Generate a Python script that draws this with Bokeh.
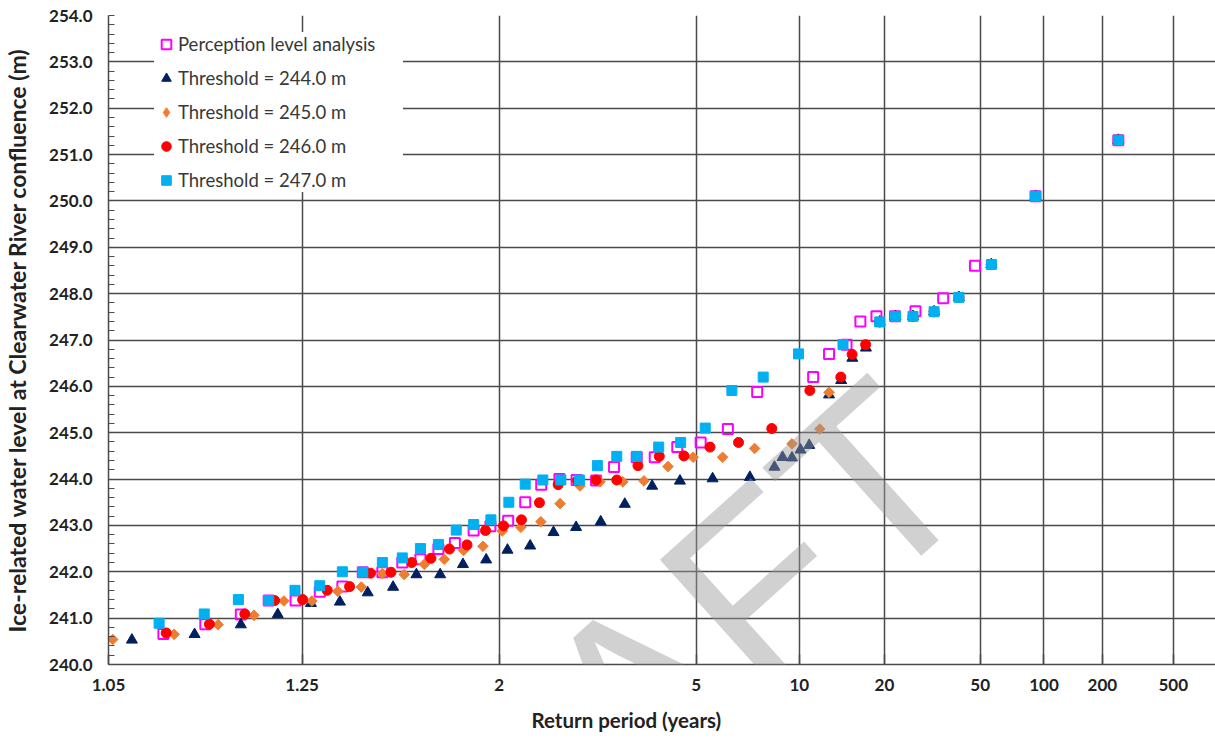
import math
from statistics import NormalDist
from bokeh.plotting import figure
from bokeh.models import (Range1d, FixedTicker, SingleIntervalTicker, CustomJSTickFormatter,
                          PrintfTickFormatter, Legend, LegendItem, Label, Title)
from bokeh.embed import file_html
from bokeh.resources import INLINE

# ---------------- data (return period in years, water level in m) ----------------
pla_T = [1.082, 1.117, 1.156, 1.194, 1.238, 1.285, 1.336, 1.389, 1.447, 1.514, 1.583, 1.660,
         1.739, 1.840, 1.942, 2.063, 2.194, 2.332, 2.509, 2.699, 2.945, 3.206, 3.59, 3.948,
         4.474, 5.133, 6.083, 7.391, 11.11, 12.58, 14.49, 16.26, 18.66, 22.0, 26.5, 34.5,
         47.4, 90.9, 244.0]
pla_h = [240.66, 240.87, 241.08, 241.38, 241.38, 241.57, 241.68, 241.99, 241.99, 242.20, 242.27,
         242.49, 242.62, 242.89, 242.98, 243.10, 243.50, 243.88, 244.00, 243.98, 243.97, 244.26,
         244.47, 244.47, 244.69, 244.79, 245.08, 245.88, 246.20, 246.70, 246.90, 247.40, 247.51,
         247.51, 247.62, 247.90, 248.60, 250.10, 251.31]

# upper points shared by all threshold series
top_T = [19.19, 22.08, 25.9, 31.6, 40.3, 56.2, 90.9, 244.0]
top_h = [247.39, 247.51, 247.51, 247.61, 247.92, 248.63, 250.10, 251.31]

t244_T = [1.062, 1.107, 1.156, 1.208, 1.267, 1.330, 1.403, 1.482, 1.567, 1.668, 1.781, 1.915,
          2.058, 2.235, 2.449, 2.693, 3.009, 3.380, 3.893, 4.543, 5.522, 7.032, 8.34, 8.84,
          9.47, 10.09, 10.78, 12.58, 13.87, 15.2, 17.05]
t244_h = [240.53, 240.65, 240.86, 241.08, 241.32, 241.35, 241.55, 241.67, 241.94, 241.94, 242.16,
          242.26, 242.47, 242.56, 242.85, 242.96, 243.08, 243.46, 243.85, 243.96, 244.01, 244.04,
          244.26, 244.47, 244.46, 244.63, 244.73, 245.82, 246.13, 246.61, 246.83]

t245_T = [1.052, 1.090, 1.130, 1.173, 1.218, 1.269, 1.325, 1.385, 1.447, 1.521, 1.599, 1.687,
          1.784, 1.895, 2.021, 2.159, 2.329, 2.516, 2.740, 2.999, 3.346, 3.728, 4.246, 4.909,
          5.882, 7.262, 9.47, 11.70, 12.58]
t245_h = [240.54, 240.65, 240.86, 241.06, 241.37, 241.37, 241.58, 241.67, 241.96, 241.94, 242.16,
          242.27, 242.46, 242.55, 242.88, 242.96, 243.08, 243.47, 243.85, 243.94, 243.94, 243.96,
          244.27, 244.47, 244.47, 244.66, 244.76, 245.08, 245.87]

t246_T = [1.084, 1.121, 1.161, 1.203, 1.251, 1.301, 1.354, 1.411, 1.475, 1.549, 1.627, 1.712,
          1.803, 1.911, 2.030, 2.164, 2.316, 2.496, 2.709, 2.945, 3.249, 3.614, 4.047, 4.649,
          5.435, 6.519, 8.183, 10.83, 13.83, 15.17, 17.0]
t246_h = [240.68, 240.87, 241.09, 241.38, 241.40, 241.60, 241.68, 241.97, 241.99, 242.20, 242.29,
          242.49, 242.58, 242.89, 242.99, 243.12, 243.49, 243.88, 243.97, 243.98, 243.98, 244.29,
          244.49, 244.50, 244.69, 244.79, 245.09, 245.91, 246.20, 246.69, 246.90]

t247_T = [1.079, 1.116, 1.153, 1.194, 1.237, 1.285, 1.336, 1.389, 1.447, 1.514, 1.583, 1.660,
          1.746, 1.840, 1.945, 2.068, 2.194, 2.347, 2.524, 2.732, 2.963, 3.249, 3.591, 4.034,
          4.562, 5.277, 6.242, 7.704, 9.94, 14.08]
t247_h = [240.89, 241.09, 241.40, 241.38, 241.60, 241.70, 242.00, 241.99, 242.20, 242.30, 242.50,
          242.59, 242.90, 243.02, 243.12, 243.50, 243.89, 243.98, 243.98, 243.98, 244.29, 244.49,
          244.49, 244.69, 244.79, 245.10, 245.91, 246.20, 246.70, 246.90]

tick_T = [1.05, 1.25, 2, 5, 10, 20, 50, 100, 200, 500]
tick_labels = ["1.05", "1.25", "2", "5", "10", "20", "50", "100", "200", "500"]

series_names = ["Perception level analysis", "Threshold = 244.0 m", "Threshold = 245.0 m",
                "Threshold = 246.0 m", "Threshold = 247.0 m"]

# ---------------- probability (normal) scale ----------------
nd = NormalDist()


def zT(T):
    return nd.inv_cdf(1.0 - 1.0 / T)


W, H = 1215, 743
LEFT, TOP, BOTTOM = 107, 15, 79
x0, x1 = zT(1.05), zT(900)
y0, y1 = 240.0, 254.0

FONT = "Lato"
INK = "#222222"
GRID = "#4a4a4a"

p = figure(width=W, height=H, output_backend="svg", toolbar_location=None,
           x_range=Range1d(x0, x1), y_range=Range1d(y0, y1),
           min_border_left=LEFT, min_border_right=0, min_border_top=TOP,
           min_border_bottom=BOTTOM)
p.outline_line_color = None
p.background_fill_color = "white"
p.border_fill_color = "white"

# x axis
xt = [zT(t) for t in tick_T]
p.xaxis.ticker = FixedTicker(ticks=xt, minor_ticks=[])
p.xaxis.formatter = CustomJSTickFormatter(args=dict(tvals=xt, tlabels=tick_labels), code="""
    for (let i = 0; i < tvals.length; i++) {
        if (Math.abs(tvals[i] - tick) < 1e-6) { return tlabels[i]; }
    }
    return "";
""")
p.xaxis.major_tick_in = 10
p.xaxis.major_tick_out = 0
p.xaxis.major_label_standoff = 14
p.xgrid.ticker = FixedTicker(ticks=xt, minor_ticks=[])

# y axis
p.yaxis.ticker = SingleIntervalTicker(interval=1, num_minor_ticks=5)
p.yaxis.formatter = PrintfTickFormatter(format="%.1f")
p.yaxis.major_tick_in = 0
p.yaxis.major_tick_out = 0
p.yaxis.minor_tick_in = 6
p.yaxis.minor_tick_out = 0
p.yaxis.minor_tick_line_color = GRID
p.yaxis.major_label_standoff = 16
p.yaxis.axis_label = "Ice-related water level at Clearwater River confluence (m)"
p.yaxis.axis_label_standoff = 15
p.yaxis.axis_label_text_font = FONT
p.yaxis.axis_label_text_font_style = "bold"
p.yaxis.axis_label_text_font_size = "23px"
p.yaxis.axis_label_text_color = INK

for ax in (p.xaxis, p.yaxis):
    ax.axis_line_color = GRID
    ax.axis_line_width = 1.5
    ax.major_tick_line_color = GRID
    ax.major_tick_line_width = 1.5
    ax.major_label_text_font = FONT
    ax.major_label_text_font_style = "bold"
    ax.major_label_text_font_size = "17px"
    ax.major_label_text_color = INK

for g in (p.xgrid, p.ygrid):
    g.grid_line_color = GRID
    g.grid_line_width = 1.5

# series
r_pla = p.scatter([zT(t) for t in pla_T], pla_h, marker="square", size=10,
                  fill_color=None, line_color="#FF00FF", line_width=2)
r244 = p.scatter([zT(t) for t in t244_T + top_T], t244_h + top_h, marker="triangle", size=11,
                 fill_color="#002060", line_color="#002060")
r245 = p.scatter([zT(t) for t in t245_T + top_T], t245_h + top_h, marker="square", size=7.5,
                 angle=math.pi / 4, fill_color="#ED7D31", line_color="#ED7D31")
r246 = p.scatter([zT(t) for t in t246_T + top_T], t246_h + top_h, marker="circle", size=10,
                 fill_color="#FF0000", line_color="#FF0000")
r247 = p.scatter([zT(t) for t in t247_T + top_T], t247_h + top_h, marker="square", size=10,
                 fill_color="#00B0F0", line_color="#00B0F0")
# legend swatch for the diamond series (legends do not rotate markers): same data, hidden
r245_key = p.scatter([zT(t) for t in t245_T + top_T], t245_h + top_h, marker="diamond",
                     size=12, fill_color="#ED7D31", line_color="#ED7D31", visible=False)

legend = Legend(items=[LegendItem(label=n, renderers=[r]) for n, r in
                       zip(series_names, [r_pla, r244, r245_key, r246, r247])],
                location=(46, 472), background_fill_color="white", background_fill_alpha=1.0,
                border_line_color=None, glyph_width=24, glyph_height=24, spacing=10,
                padding=6, label_standoff=0, label_width=225, inactive_fill_alpha=0.0,
                label_text_font=FONT, label_text_font_size="18.5px", label_text_color="#383838")
p.add_layout(legend)

# x-axis title
p.add_layout(Title(text="Return period (years)", align="left", offset=423, standoff=24,
                   text_font=FONT, text_font_style="bold", text_font_size="20.5px",
                   text_color=INK), "below")


def px2x(px):
    return x0 + (px - LEFT) / (W - LEFT) * (x1 - x0)


def py2y(py):
    return y1 - (py - TOP) / (H - TOP - BOTTOM) * (y1 - y0)


# DRAFT watermark
p.add_layout(Label(x=px2x(928), y=py2y(432), text="DRAFT", angle=42, angle_units="deg",
                   text_align="right", text_baseline="alphabetic",
                   text_font="Liberation Sans", text_font_size="250px",
                   text_color="#9a9a9a", text_alpha=0.45))

open("out.html", "w").write(file_html(p, INLINE))
